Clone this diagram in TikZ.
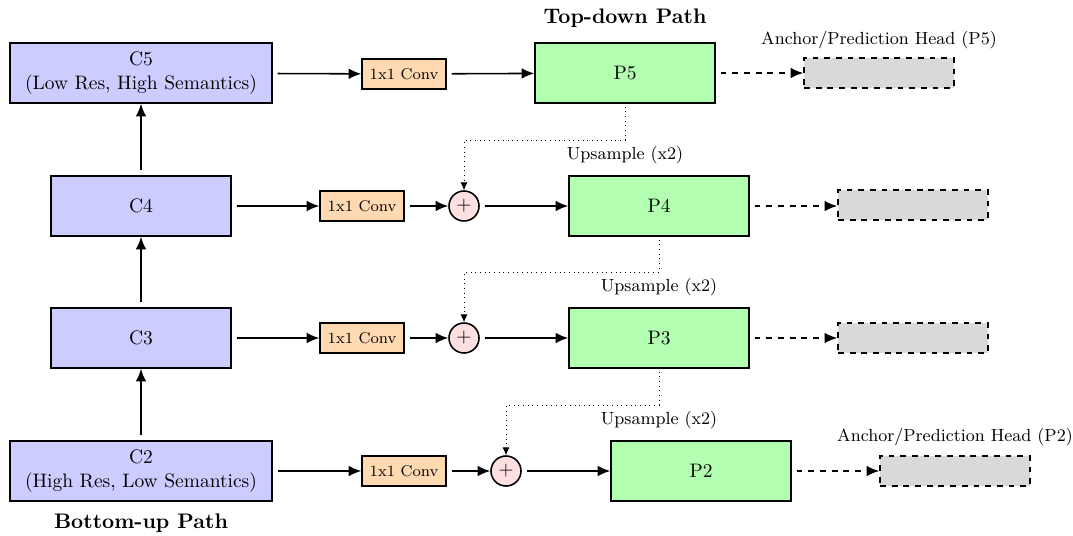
\documentclass[tikz,border=0pt]{standalone}
\usetikzlibrary{arrows.meta,positioning}
\begin{document}
\begin{tikzpicture}[x=0.513pt,y=-0.513pt,
  base/.style={draw=black,thick,inner sep=2pt,align=center},
  cbox/.style={base,fill=blue!20,minimum width=92.3pt,minimum height=30.8pt},
  cwide/.style={cbox,minimum width=134.4pt},
  pbox/.style={base,fill=green!30,minimum width=92.3pt,minimum height=30.8pt},
  convbox/.style={base,fill=orange!30,minimum width=43pt,minimum height=15.4pt,inner sep=1pt,font=\footnotesize},
  plusnode/.style={draw=black,thick,circle,fill=red!12,minimum size=15.4pt,inner sep=0pt},
  headbox/.style={draw=black,thick,dashed,fill=gray!30,minimum width=77pt,minimum height=15.4pt},
  flow/.style={-{Latex[length=6.5pt,width=5.5pt]},thick,shorten <=2.5pt},
  headflow/.style={flow,dashed},
  upflow/.style={-{Latex[length=4pt,width=3.5pt]},dotted,shorten <=1.5pt},
  note/.style={font=\small},
  title/.style={font=\bfseries\fontsize{10.8}{13}\selectfont}]
\useasboundingbox (0,0) rectangle (1073,535);

% bottom-up backbone
\node[cwide] (c5) at (141,73) {C5\\(Low Res, High Semantics)};
\node[cbox]  (c4) at (141,206) {C4};
\node[cbox]  (c3) at (141,338) {C3};
\node[cwide] (c2) at (141,471) {C2\\(High Res, Low Semantics)};

% lateral 1x1 convolutions
\node[convbox] (k5) at (404,74) {1x1 Conv};
\node[convbox] (k4) at (362,206) {1x1 Conv};
\node[convbox] (k3) at (362,338) {1x1 Conv};
\node[convbox] (k2) at (404,471) {1x1 Conv};

% merge nodes
\node[plusnode] (s4) at (464,206) {$+$};
\node[plusnode] (s3) at (464,338) {$+$};
\node[plusnode] (s2) at (506,471) {$+$};

% top-down pyramid
\node[pbox] (p5) at (625,73) {P5};
\node[pbox] (p4) at (659,206) {P4};
\node[pbox] (p3) at (659,338) {P3};
\node[pbox] (p2) at (701,471) {P2};

% prediction heads
\node[headbox] (h5) at (879,73) {};
\node[headbox] (h4) at (913,205) {};
\node[headbox] (h3) at (913,338) {};
\node[headbox] (h2) at (955,471) {};

% titles and labels
\node[title] (ttd) at (625,18) {Top-down Path};
\node[title] (tbu) at (141,523) {Bottom-up Path};
\node[note] (l5) at (879,40) {Anchor/Prediction Head (P5)};
\node[note] (l2) at (955,437) {Anchor/Prediction Head (P2)};

% bend points of the upsampling paths
\coordinate (u5) at (625,140);
\coordinate (u4) at (659,272);
\coordinate (u3) at (659,405);

% backbone arrows
\draw[flow] (c2) -- (c3);
\draw[flow] (c3) -- (c4);
\draw[flow] (c4) -- (c5);

% lateral arrows
\draw[flow] (c5) -- (k5);
\draw[flow] (k5) -- (p5);
\draw[flow] (c4) -- (k4);
\draw[flow] (k4) -- (s4);
\draw[flow] (s4) -- (p4);
\draw[flow] (c3) -- (k3);
\draw[flow] (k3) -- (s3);
\draw[flow] (s3) -- (p3);
\draw[flow] (c2) -- (k2);
\draw[flow] (k2) -- (s2);
\draw[flow] (s2) -- (p2);

% head arrows
\draw[headflow] (p5) -- (h5);
\draw[headflow] (p4) -- (h4.west |- p4);
\draw[headflow] (p3) -- (h3);
\draw[headflow] (p2) -- (h2);

% upsampling paths
\draw[upflow] (p5.south) -- (u5) -| (s4.north);
\draw[upflow] (p4.south) -- (u4) -| (s3.north);
\draw[upflow] (p3.south) -- (u3) -| (s2.north);
\node[note] (n5) at (625,155) {Upsample (x2)};
\node[note] (n4) at (659,287) {Upsample (x2)};
\node[note] (n3) at (659,420) {Upsample (x2)};
\end{tikzpicture}
\end{document}
